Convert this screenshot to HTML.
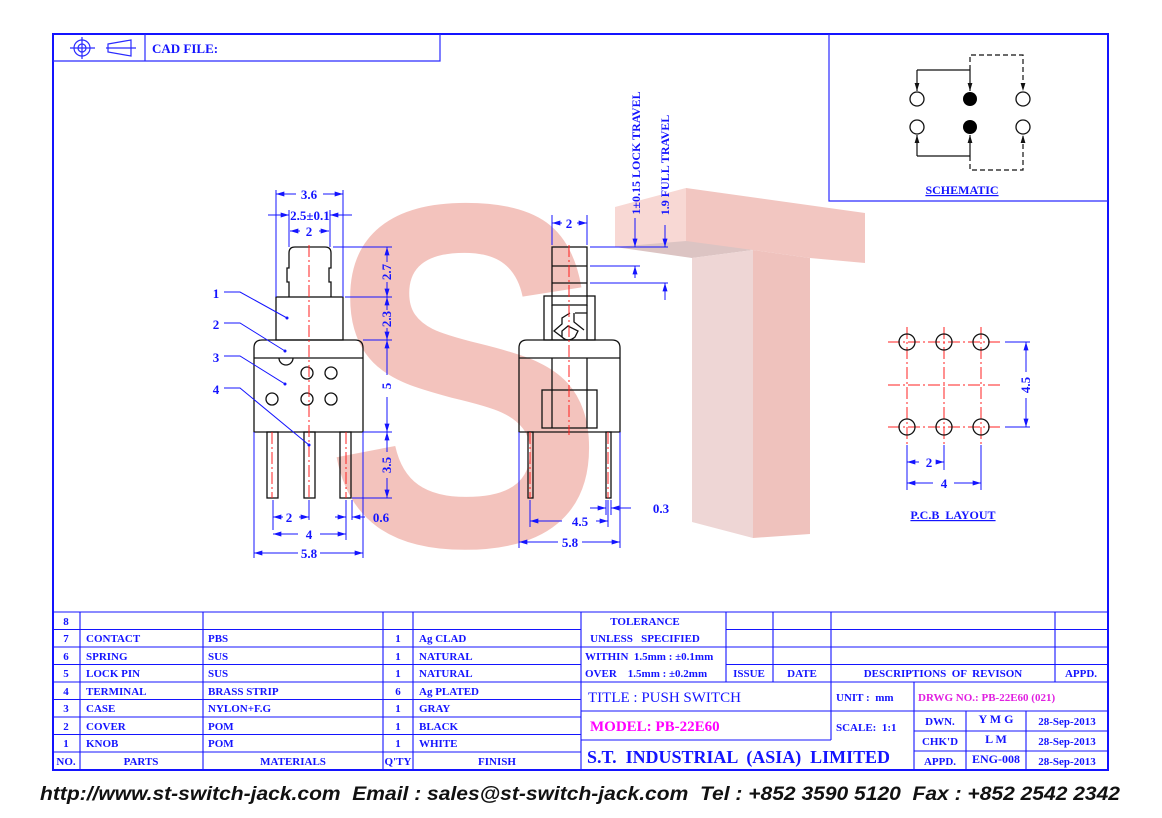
<!DOCTYPE html>
<html><head><meta charset="utf-8"><style>
html,body{margin:0;padding:0;background:#fff;}
svg{display:block;}
text{white-space:pre;}
.b{fill:#1414ff;font-family:"Liberation Serif",serif;font-weight:bold;}
.k{stroke:#111;fill:none;stroke-width:1.3;}
.bl{stroke:#1414ff;fill:none;stroke-width:1;}
.r{stroke:#ff2020;fill:none;stroke-width:1;stroke-dasharray:12 3 2 3;}
.g{stroke:#2a2aff;fill:none;stroke-width:1.2;}
.ar path{stroke:#1414ff;fill:none;stroke-width:1;marker-end:url(#a);}
</style></head><body>
<svg width="1162" height="818" viewBox="0 0 1162 818" xmlns="http://www.w3.org/2000/svg">
<defs>
<marker id="a" viewBox="0 0 10 6" refX="10" refY="3" markerWidth="9" markerHeight="5" markerUnits="userSpaceOnUse" orient="auto"><path d="M0,0 L10,3 L0,6z" fill="#1414ff"/></marker>
<marker id="ak" viewBox="0 0 10 6" refX="10" refY="3" markerWidth="8" markerHeight="5" markerUnits="userSpaceOnUse" orient="auto"><path d="M0,0 L10,3 L0,6z" fill="#111"/></marker>
</defs>

<!-- Watermark S -->
<text x="465" y="545" font-family="Liberation Sans,sans-serif" font-weight="bold" font-size="490" fill="#f0b4ad" fill-opacity="0.8" text-anchor="middle" transform="translate(465 0) scale(0.86 1) translate(-465 0)">S</text>
<!-- Watermark T -->
<polygon points="615,207 686,188 686,243 615,247" fill="#f8d8d4"/>
<polygon points="686,188 865,213 865,263 810,258 753,250 686,243" fill="#f2c6c1"/>
<polygon points="615,247 686,241 753,250 692,258" fill="#dcc4c3"/>
<polygon points="692,258 753,250 753,538 692,522" fill="#eed6d5"/>
<polygon points="753,250 810,258 810,534 753,538" fill="#efc2bd"/>

<!-- Frame -->
<rect x="53" y="34" width="1055" height="736" fill="none" stroke="#1414ff" stroke-width="2"/>
<path d="M53 61H440V34 M145 34V61" class="g"/>
<circle cx="82" cy="48" r="8" class="g"/><circle cx="82" cy="48" r="4" class="g"/>
<path d="M70 48H95 M82 37V59" class="g"/>
<path d="M106 48H136 M108 44L131 40V56L108 52Z" class="g"/>
<text x="152" y="53" class="b" font-size="13">CAD FILE:</text>

<!-- Schematic box -->
<path d="M829 34V201H1108" class="g" stroke-width="1.5"/>
<g stroke="#111" fill="none" stroke-width="1.2">
<path d="M917 70H970"/><path d="M917 70V91" marker-end="url(#ak)"/><path d="M970 70V91" marker-end="url(#ak)"/>
<path d="M970 70V55H1023V91" stroke-dasharray="5 3" marker-end="url(#ak)"/>
<path d="M917 156H970"/><path d="M917 156V135" marker-end="url(#ak)"/><path d="M970 156V135" marker-end="url(#ak)"/>
<path d="M970 156V170H1023V135" stroke-dasharray="5 3" marker-end="url(#ak)"/>
</g>
<circle cx="917" cy="99" r="7" class="k" fill="#fff"/><circle cx="970" cy="99" r="7" fill="#000"/><circle cx="1023" cy="99" r="7" class="k"/>
<circle cx="917" cy="127" r="7" class="k"/><circle cx="970" cy="127" r="7" fill="#000"/><circle cx="1023" cy="127" r="7" class="k"/>
<text x="962" y="194" class="b" font-size="12" text-anchor="middle" text-decoration="underline">SCHEMATIC</text>

<!-- PCB layout -->
<path d="M888 342H1003 M888 385H1000 M888 427H1003 M907 327V445 M944 327V445 M981 327V445" class="r"/>
<g class="k"><circle cx="907" cy="342" r="8"/><circle cx="944" cy="342" r="8"/><circle cx="981" cy="342" r="8"/><circle cx="907" cy="427" r="8"/><circle cx="944" cy="427" r="8"/><circle cx="981" cy="427" r="8"/></g>
<path d="M1005 342H1030 M1005 427H1030 M907 445V490 M944 445V470 M981 445V490" class="bl"/>
<g class="ar"><path d="M1026 372V342"/><path d="M1026 398V427"/><path d="M919 462H907"/><path d="M936 462H944"/><path d="M933 483H907"/><path d="M954 483H981"/></g>
<text x="1030" y="385" class="b" font-size="13" text-anchor="middle" transform="rotate(-90 1030 385)">4.5</text>
<text x="929" y="467" class="b" font-size="13" text-anchor="middle">2</text>
<text x="944" y="488" class="b" font-size="13" text-anchor="middle">4</text>
<text x="953" y="519" class="b" font-size="12" text-anchor="middle" text-decoration="underline">P.C.B  LAYOUT</text>

<!-- Left view -->
<g class="k" fill="#fff" fill-opacity="0.5">
<path d="M289 297V282H287V268H289V253Q289 247 295 247H325Q331 247 331 253V268H329V282H331V297" />
<rect x="276" y="297" width="67" height="43"/>
<path d="M254 432V348Q254 340 262 340H355Q363 340 363 348V432Z"/>
<path d="M254 358H363"/>
<path d="M279 358A7 7 0 0 0 293 358"/>
<rect x="267" y="432" width="11" height="66"/><rect x="304" y="432" width="11" height="66"/><rect x="340" y="432" width="11" height="66"/>
<circle cx="307" cy="373" r="6"/><circle cx="331" cy="373" r="6"/><circle cx="272" cy="399" r="6"/><circle cx="307" cy="399" r="6"/><circle cx="331" cy="399" r="6"/>
</g>
<path d="M309 245V500 M272 432V498 M346 432V498" class="r"/>
<path d="M276 190V297 M343 190V297 M289 210V247 M330 210V247 M333 247H392 M345 297H392 M363 340H392 M363 432H392 M352 498H392 M273 500V530 M309 500V520 M346 500V540 M352 500V520 M254 432V558 M363 432V558" class="bl"/>
<g class="ar">
<path d="M296 194H276"/><path d="M323 194H343"/><path d="M268 215H289"/><path d="M352 215H330"/><path d="M300 231H290"/><path d="M319 231H329"/>
<path d="M387 262V247"/><path d="M387 282V297"/><path d="M387 310V297"/><path d="M387 328V340"/><path d="M387 375V340"/><path d="M387 397V432"/><path d="M387 452V432"/><path d="M387 478V498"/>
<path d="M283 517H273"/><path d="M299 517H309"/><path d="M335 517H346"/><path d="M365 517H352"/><path d="M298 534H273"/><path d="M320 534H346"/><path d="M298 553H254"/><path d="M320 553H363"/>
</g>
<g class="b" font-size="13" text-anchor="middle">
<text x="309" y="199">3.6</text><text x="310" y="220">2.5±0.1</text><text x="309" y="236">2</text>
<text x="391" y="272" transform="rotate(-90 391 272)">2.7</text>
<text x="391" y="319" transform="rotate(-90 391 319)">2.3</text>
<text x="391" y="386" transform="rotate(-90 391 386)">5</text>
<text x="391" y="465" transform="rotate(-90 391 465)">3.5</text>
<text x="289" y="522">2</text><text x="309" y="539">4</text><text x="309" y="558">5.8</text><text x="381" y="522">0.6</text>
<text x="216" y="298">1</text><text x="216" y="329">2</text><text x="216" y="362">3</text><text x="216" y="394">4</text>
</g>
<path d="M224 292H240L287 318 M224 323H240L285 351 M224 356H240L285 384 M224 388H240L309 445" stroke="#1414ff" fill="none" stroke-width="1"/>
<g fill="#1414ff"><circle cx="287" cy="318" r="1.5"/><circle cx="285" cy="351" r="1.5"/><circle cx="285" cy="384" r="1.5"/><circle cx="309" cy="445" r="1.5"/></g>

<!-- Middle view -->
<g class="k" fill="#fff" fill-opacity="0.5">
<rect x="552" y="247" width="35" height="58"/>
<path d="M552 266H587 M552 283H587"/>
<rect x="544" y="296" width="51" height="44"/>
<path d="M552 305V340 M587 305V340"/>
<path d="M519 432V348Q519 340 527 340H612Q620 340 620 348V432Z"/>
<path d="M519 358H620 M552 358V428 M587 358V428"/>
<rect x="542" y="390" width="55" height="38"/>
<path d="M570 313L562 318V324L554 331L562 337 M575 313H587 M574 313V322L584 330 M562 337Q568 343 575 337L578 331L568 326L562 331Z"/>
<rect x="528" y="432" width="5" height="66"/><rect x="606" y="432" width="5" height="66"/>
</g>
<path d="M569 245V435 M530 432V498 M608 432V498" class="r"/>
<path d="M552 215V245 M587 215V245 M590 247H668 M590 266H640 M590 283H668 M519 432V548 M620 432V548 M530 500V527 M606 500V515 M611 500V515 M608 500V527" class="bl"/>
<g class="ar">
<path d="M562 223H552"/><path d="M577 223H587"/>
<path d="M635 218V247"/><path d="M635 278V266"/><path d="M665 225V247"/><path d="M665 300V283"/>
<path d="M590 508H606"/><path d="M631 508H611"/><path d="M562 521H530"/><path d="M596 521H608"/><path d="M558 542H519"/><path d="M582 542H620"/>
</g>
<g class="b" font-size="13" text-anchor="middle">
<text x="569" y="228">2</text><text x="580" y="526">4.5</text><text x="570" y="547">5.8</text><text x="661" y="513">0.3</text>
<text x="640" y="153" font-size="12" transform="rotate(-90 640 153)">1±0.15 LOCK TRAVEL</text>
<text x="669" y="165" font-size="12" transform="rotate(-90 669 165)">1.9 FULL TRAVEL</text>
</g>

<!-- Table -->
<g stroke="#1414ff" stroke-width="1.1" fill="none">
<path d="M53 612H1108 M53 629.5H581 M53 647H581 M53 664.5H581 M53 682H1108 M53 699.5H581 M53 717H581 M53 734.5H581 M53 752H581"/>
<path d="M80 612V770 M203 612V770 M383 612V770 M413 612V770 M581 612V770"/>
<path d="M581 647H726 M726 629.5H1108 M726 647H1108 M726 664.5H1108 M726 612V682 M773 612V682 M831 612V682 M1055 612V682"/>
<path d="M581 711H914 M581 740H831 M831 682V740 M914 682V770 M914 711H1108 M914 731H1108 M914 751H1108 M966 711V770 M1026 711V770"/>
</g>
<g class="b" font-size="11">
<g text-anchor="middle"><text x="66" y="625">8</text><text x="66" y="642">7</text><text x="66" y="660">6</text><text x="66" y="677">5</text><text x="66" y="695">4</text><text x="66" y="712">3</text><text x="66" y="730">2</text><text x="66" y="747">1</text><text x="66" y="765">NO.</text>
<text x="398" y="642">1</text><text x="398" y="660">1</text><text x="398" y="677">1</text><text x="398" y="695">6</text><text x="398" y="712">1</text><text x="398" y="730">1</text><text x="398" y="747">1</text><text x="398" y="765">Q'TY</text>
<text x="141" y="765">PARTS</text><text x="293" y="765">MATERIALS</text><text x="497" y="765">FINISH</text></g>
<text x="86" y="642">CONTACT</text><text x="86" y="660">SPRING</text><text x="86" y="677">LOCK PIN</text><text x="86" y="695">TERMINAL</text><text x="86" y="712">CASE</text><text x="86" y="730">COVER</text><text x="86" y="747">KNOB</text>
<text x="208" y="642">PBS</text><text x="208" y="660">SUS</text><text x="208" y="677">SUS</text><text x="208" y="695">BRASS STRIP</text><text x="208" y="712">NYLON+F.G</text><text x="208" y="730">POM</text><text x="208" y="747">POM</text>
<text x="419" y="642">Ag CLAD</text><text x="419" y="660">NATURAL</text><text x="419" y="677">NATURAL</text><text x="419" y="695">Ag PLATED</text><text x="419" y="712">GRAY</text><text x="419" y="730">BLACK</text><text x="419" y="747">WHITE</text>
<text x="645" y="625" text-anchor="middle">TOLERANCE</text>
<text x="645" y="642" text-anchor="middle">UNLESS   SPECIFIED</text>
<text x="585" y="660">WITHIN  1.5mm : ±0.1mm</text>
<text x="585" y="677">OVER    1.5mm : ±0.2mm</text>
<text x="749" y="677" text-anchor="middle">ISSUE</text><text x="802" y="677" text-anchor="middle">DATE</text>
<text x="943" y="677" text-anchor="middle">DESCRIPTIONS  OF  REVISON</text><text x="1081" y="677" text-anchor="middle">APPD.</text>
<text x="588" y="702" font-size="15" font-weight="normal">TITLE : PUSH SWITCH</text>
<text x="836" y="701">UNIT :  mm</text>
<text x="918" y="701" fill="#e020e0">DRWG NO.: PB-22E60 (021)</text>
<text x="590" y="731" font-size="15" fill="#ff00ff">MODEL: PB-22E60</text>
<text x="836" y="731">SCALE:  1:1</text>
<text x="587" y="763" font-size="18" textLength="303" lengthAdjust="spacingAndGlyphs">S.T.  INDUSTRIAL  (ASIA)  LIMITED</text>
<g text-anchor="middle"><text x="940" y="725">DWN.</text><text x="940" y="745">CHK'D</text><text x="940" y="765">APPD.</text>
<text x="996" y="723" font-size="12">Y M G</text><text x="996" y="743" font-size="12">L M</text><text x="996" y="763" font-size="12">ENG-008</text>
<text x="1067" y="725">28-Sep-2013</text><text x="1067" y="745">28-Sep-2013</text><text x="1067" y="765">28-Sep-2013</text></g>
</g>

<text x="40" y="800" font-family="Liberation Sans,sans-serif" font-weight="bold" font-style="italic" font-size="19" fill="#111" textLength="1080" lengthAdjust="spacingAndGlyphs">http://www.st-switch-jack.com  Email : sales@st-switch-jack.com  Tel : +852 3590 5120  Fax : +852 2542 2342</text>
</svg>
</body></html>
